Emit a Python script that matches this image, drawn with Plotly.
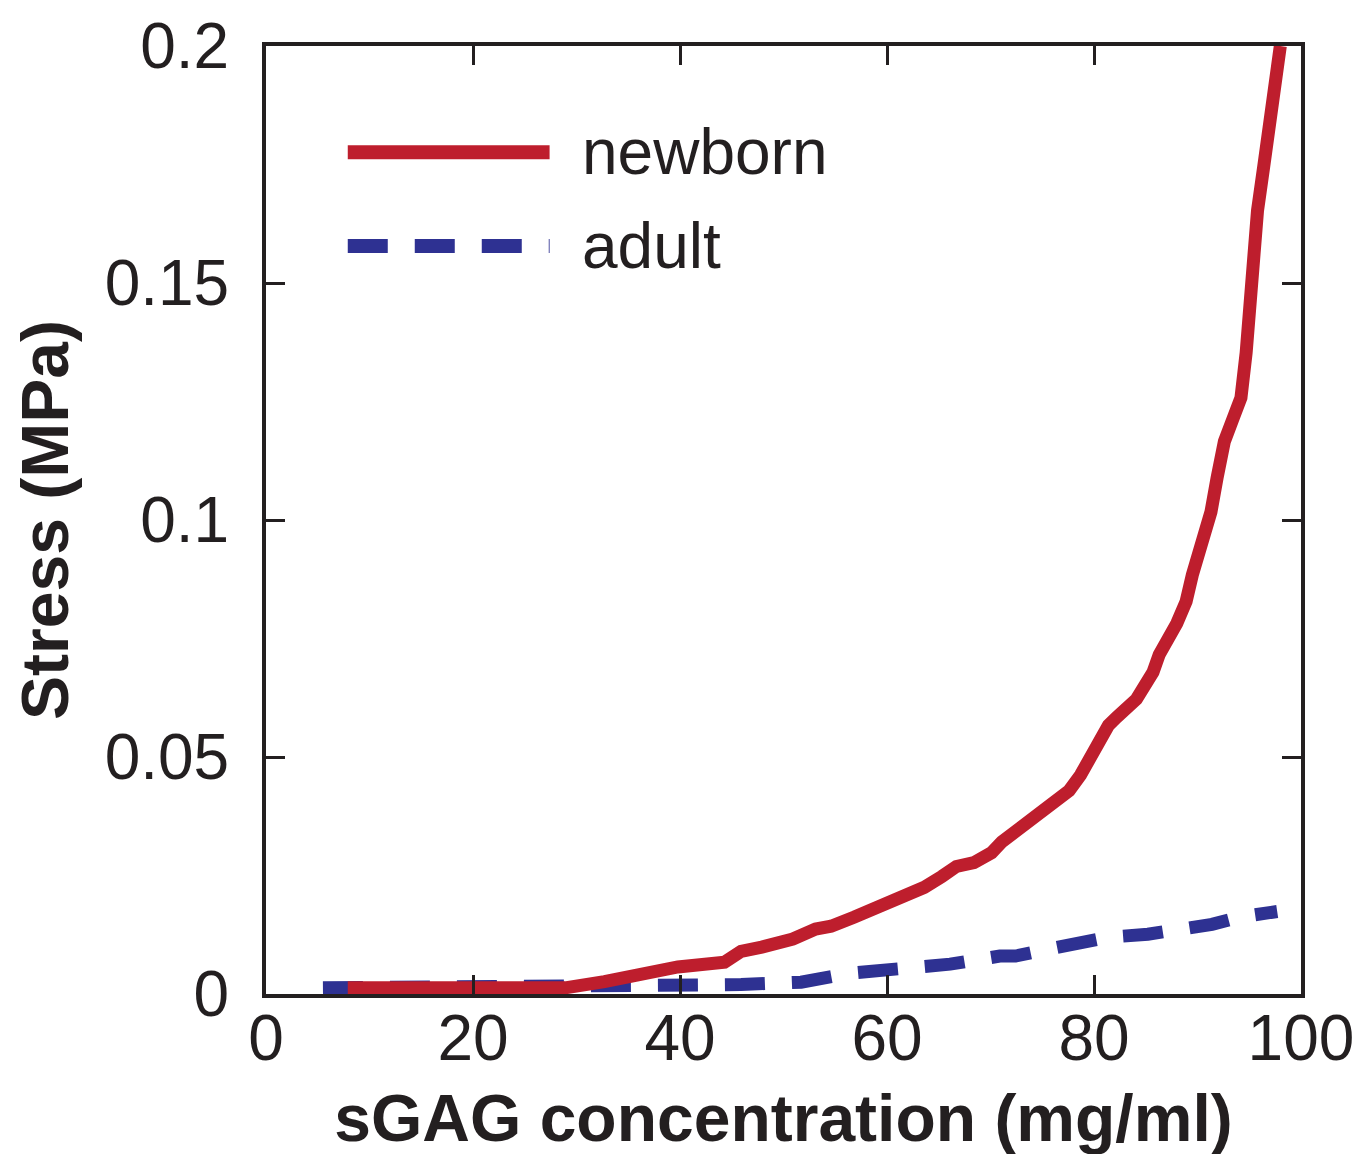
import plotly.graph_objects as go

# Newborn curve (sGAG concentration mg/ml, stress MPa)
newborn_x = [7.9, 28.9, 32.7, 37.2, 39.8, 44.3, 45.9, 47.9, 50.9, 53.1, 54.6, 56.8, 58.6,
             60.4, 62.1, 63.6, 65.3, 66.7, 68.4, 70.1, 71.1, 72.3, 73.9, 76.3, 77.6, 78.7,
             81.4, 82.2, 84.1, 85.7, 86.3, 88.0, 88.9, 89.5, 90.5, 91.3, 91.9, 92.6, 93.4,
             94.2, 94.7, 95.0, 95.3, 95.8, 96.4, 97.1, 97.7, 98.0]
newborn_y = [0.0013, 0.0013, 0.0026, 0.0044, 0.0057, 0.0067, 0.0090, 0.0099, 0.0116, 0.0137,
             0.0143, 0.0162, 0.0179, 0.0193, 0.0214, 0.0225, 0.0248, 0.0269, 0.0277, 0.0298,
             0.0321, 0.0342, 0.0363, 0.0413, 0.0429, 0.0462, 0.0567, 0.0584, 0.0622, 0.0679,
             0.0716, 0.0782, 0.0828, 0.0884, 0.0950, 0.1017, 0.1090, 0.1166, 0.1212, 0.1258,
             0.1353, 0.1466, 0.1559, 0.1653, 0.1746, 0.1840, 0.1933, 0.2000]

# Adult curve
adult_x = [5.5, 30.5, 36.3, 42.1, 45.9, 47.8, 51.7, 56.5, 59.4, 61.3, 66.1, 70.9, 72.4,
           75.7, 78.6, 81.5, 85.2, 89.2, 91.4, 94.0, 97.7]
adult_y = [0.0013, 0.0013, 0.0015, 0.0019, 0.0020, 0.0021, 0.0025, 0.0044, 0.0048, 0.0055,
           0.0063, 0.0080, 0.0080, 0.0095, 0.0107, 0.0120, 0.0126, 0.0137, 0.0147, 0.0162,
           0.0174]

series_names = ["newborn", "adult"]
x_ticks = [0, 20, 40, 60, 80, 100]
y_ticks = [0, 0.05, 0.1, 0.15, 0.2]
y_tick_labels = ["0", "0.05", "0.1", "0.15", "0.2"]

RED = "#BE1E2D"
BLUE = "#2E3192"
INK = "#231F20"
FONT = "Liberation Sans, Arial, Helvetica, sans-serif"

fig = go.Figure()
fig.add_trace(go.Scatter(x=adult_x, y=adult_y, mode="lines", name=series_names[1],
                         line=dict(color=BLUE, width=13, dash="40px,27px"),
                         showlegend=False))
fig.add_trace(go.Scatter(x=newborn_x, y=newborn_y, mode="lines", name=series_names[0],
                         line=dict(color=RED, width=13), showlegend=False))

axis_common = dict(showgrid=False, zeroline=False, showline=True, linecolor=INK,
                   linewidth=4, mirror="ticks", ticks="inside", ticklen=19, tickwidth=3,
                   tickcolor=INK, tickfont=dict(family=FONT, size=64, color=INK))

fig.update_xaxes(range=[0, 100], tickvals=x_ticks, ticktext=[str(v) for v in x_ticks],
                 title=dict(text="<b>sGAG concentration (mg/ml)</b>",
                            font=dict(family=FONT, size=66, color=INK), standoff=23),
                 ticklabelstandoff=-15, automargin=False, **axis_common)
fig.update_yaxes(range=[0, 0.2], tickvals=y_ticks, ticktext=y_tick_labels,
                 title=dict(text="<b>Stress (MPa)</b>",
                            font=dict(family=FONT, size=66, color=INK), standoff=27),
                 ticklabelstandoff=20, automargin=False, **axis_common)

# Legend drawn inside the plot (long sample lines like the original)
leg_x0, leg_x1, leg_text_x = 0.079, 0.274, 0.303
leg_rows = [(series_names[0], RED, "solid", 0.888), (series_names[1], BLUE, "40px,27px", 0.789)]
for name, color, dash, yy in leg_rows:
    fig.add_shape(type="line", xref="paper", yref="paper", x0=leg_x0, x1=leg_x1, y0=yy, y1=yy,
                  line=dict(color=color, width=14, dash=dash))
    fig.add_annotation(xref="paper", yref="paper", x=leg_text_x, y=yy, text=name,
                       showarrow=False, xanchor="left", yanchor="middle",
                       font=dict(family=FONT, size=64, color=INK))

fig.update_layout(width=1363, height=1154, margin=dict(l=258, r=70, t=38, b=168),
                  paper_bgcolor="white", plot_bgcolor="white")

fig.write_html("out.html")
